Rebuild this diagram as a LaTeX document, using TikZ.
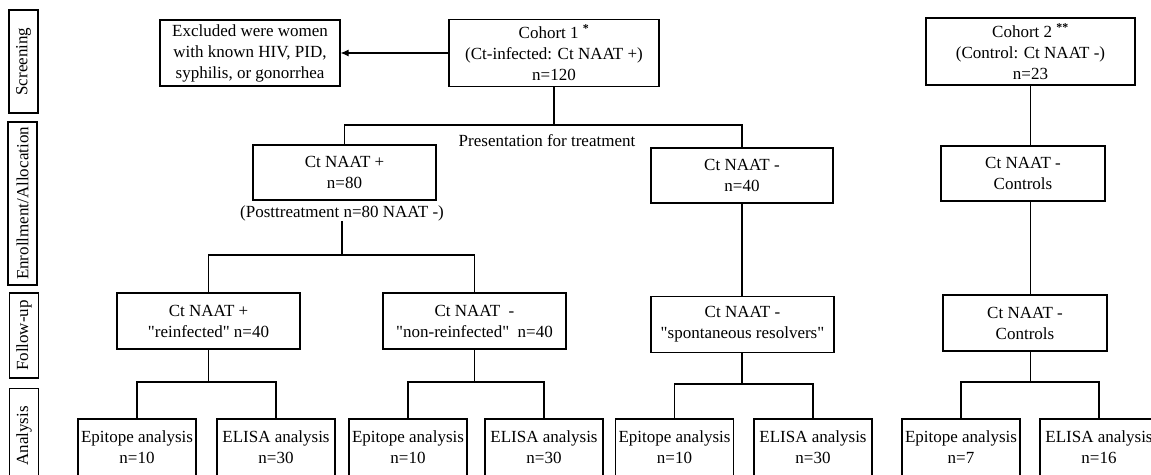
\documentclass[tikz,border=0pt]{standalone}
\usepackage{fontspec}
\setmainfont{Liberation Serif}
\usepackage{tikz}
\usetikzlibrary{arrows.meta}

\newcommand{\dq}{\textquotedbl}

\begin{document}
\begin{tikzpicture}[x=1pt, y=-1pt, line width=1.1pt,
    every node/.style={font=\fontsize{17}{21}\selectfont, align=center, inner sep=0pt},
    box/.style={draw, minimum height=56},
    phase/.style={draw, rotate=90, minimum height=29}]

    \useasboundingbox (0,0) rectangle (1151,474);
    \clip (0,0) rectangle (1151,474);

    % Stages
    \node[phase, minimum width=103] (scr) at (23.5,61.5) {Screening};
    \node[phase, minimum width=163] (enr) at (22.5,203.5) {Enrollment/Allocation};
    \node[phase, minimum width=85] (fol) at (24,335.5) {Follow-up};
    \node[phase, minimum width=95] (ana) at (24,436) {Analysis};

    % Screening
    \node[box, minimum width=180, minimum height=66] (excl) at (250,53) {Excluded were women\\with known HIV, PID,\\syphilis, or gonorrhea};
    \node[box, minimum width=210, minimum height=67] (coh1) at (554,53) {Cohort 1 \textsuperscript{\textbf{*}}\\(Ct-infected: Ct NAAT +)\\n=120};
    \node[box, minimum width=209, minimum height=67] (coh2) at (1030.5,51.5) {Cohort 2 \textsuperscript{\textbf{**}}\\(Control: Ct NAAT -)\\n=23};
    \draw[-{Latex[length=8pt,width=7pt]}] (coh1.west) -- (excl.east);

    % Enrollment/Allocation
    \node (pres) at (547,141) {Presentation for treatment};
    \node[box, minimum width=183, minimum height=55] (pos80) at (344.5,172.5) {Ct NAAT +\\n=80};
    \node (post) at (342,213) {(Posttreatment n=80 NAAT -)};
    \node[box, minimum width=182, minimum height=55] (neg40) at (742,175.5) {Ct NAAT -\\n=40};
    \node[box, minimum width=164, minimum height=55] (ctrlA) at (1023,173.5) {Ct NAAT -\\Controls};

    \draw (coh1.south) -- (coh1.south |- 0,125) coordinate (j0);
    \draw (pos80.north) |- (j0) -| (neg40.north);
    \draw (coh2.south) -- (coh2.south |- ctrlA.north);

    % Follow-up
    \node[box, minimum width=183] (reinf) at (208.5,321) {Ct NAAT +\\\dq reinfected\dq{} n=40};
    \node[box, minimum width=183] (nonre) at (474.5,321) {Ct NAAT\ \ -\\\dq non-reinfected\dq\ \ n=40};
    \node[box, minimum width=183] (spont) at (742.5,324.5) {Ct NAAT -\\\dq spontaneous resolvers\dq};
    \node[box, minimum width=164] (ctrlB) at (1025,323) {Ct NAAT -\\Controls};

    \draw (post.south) -- (post.south |- 0,255) coordinate (j1);
    \draw (reinf.north) |- (j1) -| (nonre.north);
    \draw (neg40.south) -- (neg40.south |- spont.north);
    \draw (coh2.south |- ctrlA.south) -- (coh2.south |- ctrlB.north);

    % Analysis
    \node[box, minimum width=118, minimum height=57] (ep1) at (137,447.5) {Epitope analysis\\n=10};
    \node[box, minimum width=118, minimum height=57] (el1) at (276,447.5) {ELISA analysis\\n=30};
    \node[box, minimum width=118, minimum height=57] (ep2) at (408,447.5) {Epitope analysis\\n=10};
    \node[box, minimum width=118, minimum height=57] (el2) at (544,447.5) {ELISA analysis\\n=30};
    \node[box, minimum width=118, minimum height=57] (ep3) at (674.5,447.5) {Epitope analysis\\n=10};
    \node[box, minimum width=118, minimum height=57] (el3) at (813,447.5) {ELISA analysis\\n=30};
    \node[box, minimum width=118, minimum height=57] (ep4) at (961,447.5) {Epitope analysis\\n=7};
    \node[box, minimum width=118, minimum height=57] (el4) at (1099,447.5) {ELISA analysis\\n=16};

    \draw (reinf.south) -- (reinf.south |- 0,382) coordinate (j2);
    \draw (ep1.north) |- (j2) -| (el1.north);
    \draw (nonre.south) -- (nonre.south |- 0,382) coordinate (j3);
    \draw (ep2.north) |- (j3) -| (el2.north);
    \draw (neg40.south |- spont.south) -- (neg40.south |- 0,384) coordinate (j4);
    \draw (ep3.north) |- (j4) -| (el3.north);
    \draw (coh2.south |- ctrlB.south) -- (coh2.south |- 0,382) coordinate (j5);
    \draw (ep4.north) |- (j5) -| (el4.north);
\end{tikzpicture}
\end{document}
